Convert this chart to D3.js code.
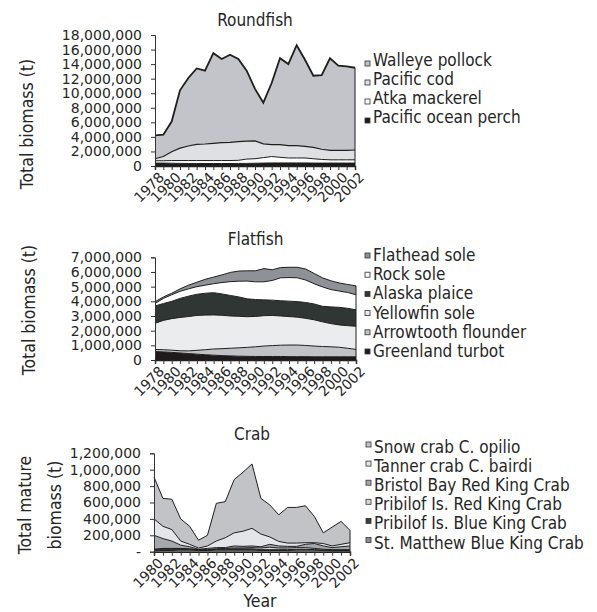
<!DOCTYPE html>
<html>
<head>
<meta charset="utf-8">
<script src="https://cdn.jsdelivr.net/npm/d3@7"></script>
<style>
  body { margin: 0; background: #fff; }
  text { font-family: "DejaVu Sans Condensed", "DejaVu Sans", sans-serif; fill: #262626; }
  text.tk { font-family: "DejaVu Sans", sans-serif; font-size: 14px; }
</style>
</head>
<body>
<script>
// ---- data (tonnes) ----
var fishYears = [1978,1979,1980,1981,1982,1983,1984,1985,1986,1987,1988,1989,1990,
                 1991,1992,1993,1994,1995,1996,1997,1998,1999,2000,2001,2002];
var crabYears = [1980,1981,1982,1983,1984,1985,1986,1987,1988,1989,1990,1991,
                 1992,1993,1994,1995,1996,1997,1998,1999,2000,2001,2002];

// roundfish, bottom layer first
var pacificOceanPerch = [400000,400000,380000,360000,350000,350000,340000,340000,340000,340000,350000,360000,380000,400000,420000,420000,420000,420000,420000,400000,400000,400000,400000,400000,400000];
var atkaMackerel = [320000,320000,370000,390000,400000,400000,410000,410000,410000,410000,430000,590000,620000,750000,880000,780000,680000,680000,680000,600000,500000,450000,450000,450000,450000];
var pacificCod = [280000,580000,1200000,1700000,2000000,2230000,2270000,2350000,2450000,2500000,2570000,2470000,2450000,1900000,1650000,1750000,1700000,1700000,1600000,1550000,1400000,1300000,1300000,1300000,1350000];
var walleyePollock = [3200000,3000000,4150000,7950000,9350000,10420000,10080000,12400000,11500000,12050000,11350000,9680000,7150000,5650000,8450000,11850000,11200000,13800000,11900000,9850000,10200000,12650000,11650000,11550000,11300000];

// flatfish, bottom layer first
var greenlandTurbot = [580000,550000,520000,480000,440000,400000,360000,330000,300000,280000,260000,250000,240000,240000,240000,240000,230000,230000,230000,220000,220000,220000,220000,220000,220000];
var arrowtoothFlounder = [140000,150000,150000,150000,180000,260000,340000,420000,470000,520000,570000,610000,660000,710000,740000,770000,790000,790000,760000,730000,700000,680000,650000,580000,500000];
var yellowfinSole = [1780000,2000000,2150000,2270000,2340000,2380000,2360000,2320000,2280000,2200000,2150000,2090000,2070000,2070000,2060000,1990000,1940000,1900000,1850000,1790000,1680000,1580000,1520000,1540000,1580000];
var alaskaPlaice = [1180000,1150000,1180000,1300000,1390000,1440000,1490000,1520000,1450000,1400000,1320000,1220000,1150000,1080000,1040000,1040000,1050000,1060000,1080000,1080000,1060000,1140000,1200000,1180000,1120000];
var rockSole = [170000,350000,450000,480000,500000,520000,550000,610000,780000,940000,1070000,1210000,1210000,1230000,1340000,1560000,1610000,1620000,1530000,1380000,1320000,1180000,1110000,1080000,1030000];
var flatheadSole = [120000,100000,100000,170000,250000,300000,400000,450000,520000,630000,690000,700000,750000,900000,730000,700000,700000,720000,750000,700000,620000,600000,550000,550000,600000];

// crab mature biomass, bottom layer first
var stMatthewBlueKing = [10000,15000,15000,20000,20000,15000,15000,20000,20000,20000,20000,20000,15000,15000,15000,15000,20000,20000,20000,15000,10000,10000,10000];
var pribilofBlueKing = [15000,20000,20000,15000,10000,5000,5000,10000,10000,15000,15000,15000,10000,10000,10000,10000,10000,10000,5000,5000,5000,5000,5000];
var pribilofRedKing = [5000,5000,5000,5000,5000,5000,5000,5000,10000,10000,10000,15000,20000,30000,20000,20000,20000,20000,15000,10000,10000,10000,10000];
var bristolBayRedKing = [170000,120000,90000,40000,25000,5000,15000,15000,10000,25000,20000,20000,15000,35000,25000,20000,15000,40000,60000,40000,25000,35000,45000];
var tannerCrab = [200000,150000,140000,50000,30000,15000,30000,80000,120000,160000,185000,215000,155000,90000,55000,40000,40000,20000,10000,30000,20000,30000,40000];
var snowCrab = [510000,340000,370000,270000,220000,95000,130000,460000,440000,650000,720000,785000,435000,390000,325000,435000,435000,450000,320000,130000,230000,280000,150000];

var roundfishTicks = [0,2000000,4000000,6000000,8000000,10000000,12000000,14000000,16000000,18000000];
var flatfishTicks = [0,1000000,2000000,3000000,4000000,5000000,6000000,7000000];
var crabTicks = [0,200000,400000,600000,800000,1000000,1200000];

// ---- drawing ----
var W = 597, H = 612;
var svg = d3.select("body").append("svg").attr("width", W).attr("height", H);
var fmt = d3.format(",");

function drawPanel(p) {
  var g = svg.append("g");
  var x = d3.scaleLinear().domain([p.years[0], p.years[p.years.length - 1]]).range([p.left, p.right]);
  var y = d3.scaleLinear().domain([0, p.yMax]).range([p.bottom, p.top]);

  var rows = p.years.map(function(yr, i) {
    var r = {year: yr};
    p.series.forEach(function(s) { r[s.name] = s.values[i]; });
    return r;
  });
  var layers = d3.stack().keys(p.series.map(function(s) { return s.name; }))(rows);

  var area = d3.area()
    .x(function(d) { return x(d.data.year); })
    .y0(function(d) { return y(d[0]); })
    .y1(function(d) { return y(d[1]); });
  var edge = d3.line()
    .x(function(d) { return x(d.data.year); })
    .y(function(d) { return y(d[1]); });

  g.selectAll(".layer").data(layers).enter().append("path")
    .attr("class", "layer")
    .attr("d", area)
    .attr("fill", function(d, i) { return p.series[i].color; });
  g.selectAll(".edge").data(layers).enter().append("path")
    .attr("class", "edge")
    .attr("d", edge)
    .attr("fill", "none")
    .attr("stroke", "#1e1e1e")
    .attr("stroke-width", function(d, i) { return p.series[i].lw || 1; });
  // right edge of the stack
  g.append("line")
    .attr("x1", p.right).attr("x2", p.right)
    .attr("y1", y(0)).attr("y2", y(layers[layers.length - 1][p.years.length - 1][1]))
    .attr("stroke", "#1e1e1e").attr("stroke-width", 1);

  // y axis
  var yAx = g.append("g").attr("transform", "translate(" + p.left + ",0)")
    .call(d3.axisLeft(y).tickValues(p.ticks).tickSize(4).tickPadding(9)
      .tickFormat(function(v) { return v === 0 ? p.zeroLabel : fmt(v); }));
  yAx.select(".domain").attr("stroke", "#333");
  yAx.selectAll(".tick line").attr("stroke", "#333");
  yAx.selectAll("text").attr("class", "tk").attr("font-size", null).attr("font-family", null)
    .attr("fill", "#262626");
  yAx.attr("font-size", null).attr("font-family", null);

  // x axis
  var xAx = g.append("g").attr("transform", "translate(0," + p.bottom + ")")
    .call(d3.axisBottom(x).tickValues(p.years).tickSize(4).tickFormat(""));
  xAx.select(".domain").attr("stroke", "#222").attr("stroke-width", 1.5);
  xAx.selectAll(".tick line").attr("stroke", "#333");
  g.selectAll(".xlab").data(p.years.filter(function(yr, i) { return i % 2 === 0; }))
    .enter().append("text")
    .attr("class", "xlab tk")
    .attr("transform", function(yr) { return "translate(" + (x(yr) + 3) + "," + (p.bottom + 5) + ") rotate(-45)"; })
    .attr("text-anchor", "end")
    .attr("dy", "0.72em")
    .text(function(yr) { return yr; });

  // panel title
  g.append("text").attr("x", (p.left + p.right) / 2).attr("y", p.titleY)
    .attr("text-anchor", "middle").style("font-size", "17px").text(p.title);

  // y title
  p.yTitle.forEach(function(t, i) {
    g.append("text")
      .attr("transform", "translate(" + p.yTitleX[i] + "," + p.yTitleY + ") rotate(-90)")
      .attr("text-anchor", "middle")
      .style("font-size", "17.5px")
      .text(t);
  });

  // legend (top series first)
  var leg = p.series.slice().reverse();
  leg.forEach(function(s, i) {
    var by = p.legendY + i * p.legendStep;
    g.append("rect")
      .attr("x", p.legendX).attr("y", by - p.markerOff)
      .attr("width", 5).attr("height", 5)
      .attr("fill", s.color).attr("stroke", "#333").attr("stroke-width", 0.8);
    g.append("text").attr("x", p.legendX + 8).attr("y", by)
      .style("font-size", "17px").text(s.name);
  });
}

drawPanel({
  title: "Roundfish", titleY: 26,
  years: fishYears, left: 155, right: 355, top: 35, bottom: 166, yMax: 18000000,
  ticks: roundfishTicks, zeroLabel: "0",
  yTitle: ["Total biomass (t)"], yTitleX: [33], yTitleY: 124,
  legendX: 365, legendY: 66, legendStep: 19, markerOff: 5,
  series: [
    {name: "Pacific ocean perch", values: pacificOceanPerch, color: "#1b1b1b"},
    {name: "Atka mackerel", values: atkaMackerel, color: "#ffffff"},
    {name: "Pacific cod", values: pacificCod, color: "#dfe0e3", lw: 1.2},
    {name: "Walleye pollock", values: walleyePollock, color: "#c3c4c9", lw: 1.8}
  ]
});

drawPanel({
  title: "Flatfish", titleY: 245,
  years: fishYears, left: 155, right: 356, top: 257.3, bottom: 360, yMax: 7000000,
  ticks: flatfishTicks, zeroLabel: "0",
  yTitle: ["Total biomass (t)"], yTitleX: [35], yTitleY: 310,
  legendX: 365, legendY: 261, legendStep: 19.2, markerOff: 8,
  series: [
    {name: "Greenland turbot", values: greenlandTurbot, color: "#1e1a1b"},
    {name: "Arrowtooth flounder", values: arrowtoothFlounder, color: "#c0c2c6"},
    {name: "Yellowfin sole", values: yellowfinSole, color: "#ebecee"},
    {name: "Alaska plaice", values: alaskaPlaice, color: "#2f3634"},
    {name: "Rock sole", values: rockSole, color: "#ffffff"},
    {name: "Flathead sole", values: flatheadSole, color: "#8e9297"}
  ]
});

drawPanel({
  title: "Crab", titleY: 440,
  years: crabYears, left: 154, right: 350, top: 453.3, bottom: 551.7, yMax: 1200000,
  ticks: crabTicks, zeroLabel: "-",
  yTitle: ["Total mature", "biomass (t)"], yTitleX: [31, 61], yTitleY: 505,
  legendX: 366, legendY: 453, legendStep: 19.1, markerOff: 11,
  series: [
    {name: "St. Matthew Blue King Crab", values: stMatthewBlueKing, color: "#8a8d91"},
    {name: "Pribilof Is. Blue King Crab", values: pribilofBlueKing, color: "#3c3c3c"},
    {name: "Pribilof Is. Red King Crab", values: pribilofRedKing, color: "#d9dadd"},
    {name: "Bristol Bay Red King Crab", values: bristolBayRedKing, color: "#a5a8ad"},
    {name: "Tanner crab C. bairdi", values: tannerCrab, color: "#e4e5e8"},
    {name: "Snow crab C. opilio", values: snowCrab, color: "#c2c3c7"}
  ]
});

svg.append("text").attr("x", 260).attr("y", 607).attr("text-anchor", "middle")
  .style("font-size", "17.5px").text("Year");
</script>
</body>
</html>
